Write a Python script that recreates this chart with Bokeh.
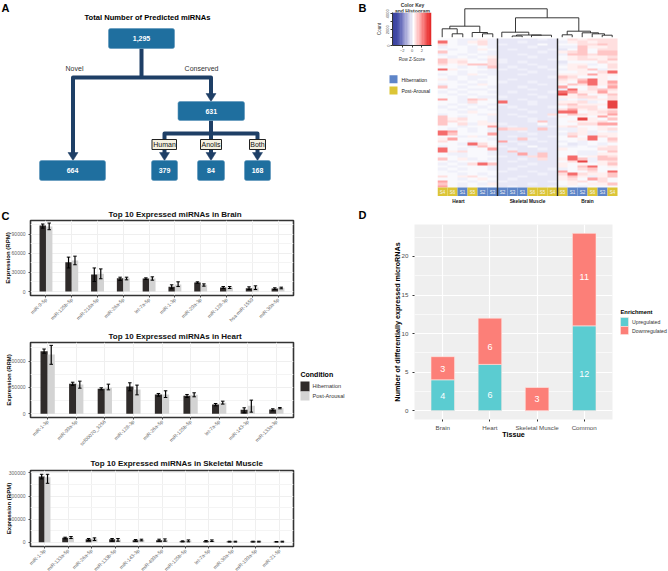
import numpy as np
from bokeh.plotting import figure
from bokeh.layouts import column, row
from bokeh.embed import file_html
from bokeh.resources import INLINE
from bokeh.core.properties import value
from bokeh.models import (ColumnDataSource, FactorRange, Range1d, FixedTicker, NumeralTickFormatter,
                          Label, LinearColorMapper, Title)
from bokeh.transform import dodge

FONT = "Liberation Sans"

# ---------- Panel A ----------
tree_values = ["1,295", "631", "664", "379", "84", "168"]
tree_left = [108, 177.5, 39, 151, 197, 244]
tree_right = [174, 244, 105, 177, 224, 270]
tree_top = [28, 101, 160, 160, 160, 160]
tree_bottom = [48, 120, 180, 180, 180, 180]
branch_labels = ["Novel", "Conserved"]
tag_labels = ["Human", "Anolis", "Both"]

# ---------- Panel B ----------
heat_rows = [
 "332242 111121 354555", "832452 112111 245455", "532352 211131 335565", "233232 111211 226445",
 "323243 121112 136355", "633232 111121 456366", "232322 112111 266566", "323234 111211 345445",
 "644325 211112 345546", "645335 212111 133354", "534665 111211 244235", "332326 121121 345335",
 "843332 212112 244624", "332322 111211 334358", "232432 112111 444744", "323223 111112 653343",
 "423233 121111 546843", "332323 211211 437847", "233243 111121 365846", "632332 112111 733537",
 "323223 111211 283565", "232332 121112 874474", "323233 111211 946346", "332322 211121 445535",
 "732653 112111 232445", "332533 811211 445239", "323232 211211 564449", "232323 121112 355539",
 "323232 112111 574545", "332433 111211 883456", "233324 121115 365447", "632332 112112 434374",
 "645332 111211 339436", "654342 111261 344453", "635244 211131 335577", "332337 121112 453343",
 "323232 655161 224345", "873232 112111 324232", "863337 111211 254244", "332423 121112 363854",
 "473332 116211 334836", "533233 721121 232335", "332853 112111 312323", "233264 211311 223245",
 "832337 121121 433355", "845332 161111 332236", "322332 117161 332244", "332333 211561 383465",
 "634232 112151 486266", "323323 121111 359245", "232586 111211 434346", "323332 112111 436834",
 "232332 121112 235633", "323333 211211 733538", "332323 111121 585446", "534532 112111 464246",
 "332343 121111 453753", "733232 211112 345353", "632324 111211 343446", "732333 121112 232333",
]
heat_palette = ["#DEDEF2", "#E7E7F6", "#F0F0FA", "#F9F9FD", "#FFF0F0", "#FFDFDF", "#FFC6C6", "#FFA4A4", "#F56C6C", "#E84444"]
strip_samples = ["S4", "S6", "S1", "S5", "S2", "S3", "S2", "S3", "S1", "S6", "S5", "S4", "S5", "S1", "S2", "S6", "S3", "S4"]
strip_groups = ["P", "P", "H", "P", "H", "H", "H", "H", "H", "P", "P", "P", "P", "H", "H", "P", "H", "P"]
tissue_names = ["Heart", "Skeletal Muscle", "Brain"]
key_levels = [-3.75, -3.25, -2.75, -2.25, -1.75, -1.25, -0.75, -0.25, 0.25, 0.75, 1.25, 1.75, 2.25, 2.75, 3.25, 3.75]
key_palette = ["#3A429E", "#4048A4", "#5058AE", "#6A70BC", "#8C8FCC", "#AAACDA", "#C8C9E8", "#E4E4F4",
               "#FFFFFF", "#FFE2E2", "#FFC4C4", "#FCA4A4", "#F88080", "#F26060", "#EC4040", "#E42A2A"]
dendro_paths = [
 ([464.3, 464.3, 546.7, 546.7], [25.7, 8.3, 8.3, 17.3]),
 ([515, 515, 578.3, 578.3], [31.7, 17.3, 17.3, 30.7]),
 ([449.3, 449.3, 479.3, 479.3], [28.3, 25.7, 25.7, 32]),
 ([441.7, 441.7, 456.7, 456.7], [36.7, 28.3, 28.3, 33.3]),
 ([451.7, 451.7, 462.3, 462.3], [36.7, 33.3, 33.3, 36.7]),
 ([471.7, 471.7, 487, 487], [36.7, 32, 32, 33.3]),
 ([482, 482, 492.3, 492.3], [36.7, 33.3, 33.3, 36.7]),
 ([501.3, 501.3, 528.3, 528.3], [36.7, 31.7, 31.7, 34.5]),
 ([516, 516, 541, 541], [35.5, 34.5, 34.5, 34.7]),
 ([511.7, 511.7, 521.7, 521.7], [36.7, 35.5, 35.5, 36.7]),
 ([531, 531, 551, 551], [36.7, 34.7, 34.7, 36.7]),
 ([566.7, 566.7, 590, 590], [34.3, 30.7, 30.7, 32.3]),
 ([561.7, 561.7, 571.7, 571.7], [36.7, 34.3, 34.3, 36.7]),
 ([581.7, 581.7, 598, 598], [36.7, 32.3, 32.3, 33.3]),
 ([591.7, 591.7, 604, 604], [36.7, 33.3, 33.3, 34.7]),
 ([601.7, 601.7, 611.7, 611.7], [36.7, 34.7, 34.7, 36.7]),
]

# ---------- Panel C ----------
conditions = ["Hibernation", "Post-Arousal"]
brain_cats = ["miR-9-5p", "miR-125b-5p", "miR-218a-5p", "miR-26a-5p", "let-7a-5p", "miR-1-3p", "miR-29a-3p", "miR-128-3p", "hsa-miR-1559", "miR-30a-5p"]
brain_hib = [103600, 46000, 26700, 21000, 20400, 7300, 14100, 6300, 5200, 4700]
brain_hib_lo = [99500, 37000, 15700, 17300, 19000, 4200, 13000, 4700, 3100, 3100]
brain_hib_hi = [106000, 54000, 37000, 22500, 21400, 10500, 15200, 7800, 7300, 5800]
brain_pa = [102000, 48600, 27700, 21000, 20400, 11000, 10500, 6300, 6300, 5800]
brain_pa_lo = [97000, 42000, 20000, 18300, 17800, 7800, 8400, 4700, 3100, 4200]
brain_pa_hi = [107500, 55500, 35500, 22500, 23000, 15200, 12000, 7800, 8900, 6800]

heart_cats = ["miR-1-3p", "miR-99a-5p", "scf00070_3256", "miR-128-3p", "miR-26a-5p", "miR-125b-5p", "let-7a-5p", "miR-143-3p", "miR-133a-3p"]
heart_hib = [119000, 57000, 47500, 52000, 36700, 34200, 17700, 7600, 8200]
heart_hib_lo = [115000, 54000, 45500, 43700, 33500, 31000, 15200, 1900, 5700]
heart_hib_hi = [123000, 60000, 49400, 58900, 38600, 36700, 19600, 11400, 9500]
heart_pa = [112700, 55700, 49400, 46200, 36700, 36000, 20900, 15200, 10800]
heart_pa_lo = [94000, 48700, 45500, 36000, 31000, 32300, 18400, 3200, 9500]
heart_pa_hi = [130000, 62000, 56300, 54500, 43700, 39900, 24000, 26000, 12000]

muscle_cats = ["miR-1-3p", "miR-133a-5p", "miR-26a-5p", "miR-133b-5p", "miR-143-3p", "miR-499a-5p", "miR-125b-5p", "let-7a-5p", "miR-30a-5p", "miR-199a-5p", "miR-21-5p"]
muscle_hib = [284000, 18800, 13000, 13000, 8700, 8700, 4300, 4300, 2900, 2900, 1900]
muscle_hib_lo = [274000, 14400, 7200, 4300, 4300, 4300, 1500, 1500, 500, 500, 500]
muscle_hib_hi = [294000, 21600, 15900, 15900, 11500, 13000, 5800, 7200, 4300, 4300, 3000]
muscle_pa = [281000, 20200, 15000, 11500, 9000, 10000, 7000, 5800, 2900, 2900, 2900]
muscle_pa_lo = [255000, 15900, 7200, 4300, 5800, 4300, 1500, 2900, 500, 500, 500]
muscle_pa_hi = [294000, 24500, 18800, 15900, 13000, 14400, 10000, 10000, 4300, 4300, 4300]

# ---------- Panel D ----------
tissues = ["Brain", "Heart", "Skeletal Muscle", "Common"]
enrich = ["Upregulated", "Downregulated"]
up_counts = [4, 6, 0, 11]
down_counts = [3, 6, 3, 12]
up_labels = ["4", "6", "12"]
up_label_tissue = ["Brain", "Heart", "Common"]
up_label_y = [1.85, 2.0, 4.7]
down_labels = ["3", "6", "3", "11"]
down_label_y = [5.35, 8.3, 1.5, 17.3]

COL_UP, COL_DOWN = "#5BCCD1", "#FC7F78"
COL_HIB, COL_PA = "#2F2B2A", "#D3D3D3"


def blank(w, h, xr, yr, **kw):
    p = figure(width=w, height=h, x_range=xr, y_range=yr, output_backend="svg", toolbar_location=None,
               min_border=0, outline_line_color=None, background_fill_color=None, border_fill_color=None, frame_align=False, **kw)
    p.axis.visible = False
    p.grid.visible = False
    return p


def note(p, x, y, text, size, bold=False, color="black", align="center", base="middle", angle=0):
    p.add_layout(Label(x=x, y=y, x_units="canvas", y_units="canvas", text=text, text_font=FONT,
                       text_font_size=f"{size}px", text_font_style="bold" if bold else "normal",
                       text_color=color, text_align=align, text_baseline=base, angle=angle))


def overlay(w, h):
    """Transparent sheet laid over the figure that follows it, for text outside that figure's frame."""
    return blank(w, h, Range1d(0, w), Range1d(h, 0), margin=(0, 0, -h, 0))


# ---------- A ----------
pa = blank(330, 205, Range1d(0, 330), Range1d(205, 0))
NAVY = "#1E3F66"
pa.multi_line([[141, 141], [72.5, 72.5, 210.5, 210.5], [210.5, 210.5], [164, 164, 257, 257], [210.5, 210.5]],
              [[48, 77], [155, 77, 77, 96], [120, 133], [155, 133, 133, 155], [133, 155]],
              line_color=NAVY, line_width=4, line_join="round")
pa.patches([[67.5, 77.5, 72.5], [205.5, 215.5, 210.5], [159, 169, 164], [205.5, 215.5, 210.5], [252, 262, 257]],
           [[152, 152, 160], [93, 93, 101], [152, 152, 160], [152, 152, 160], [152, 152, 160]],
           fill_color=NAVY, line_color=NAVY, line_width=0.5)
pa.quad(left=tree_left, right=tree_right, top=tree_top, bottom=tree_bottom, fill_color="#1F6F9F", line_color="#5B93B8",
        line_width=0.6, border_radius=2)
pa.text([(a + b) / 2 for a, b in zip(tree_left, tree_right)], [(a + b) / 2 for a, b in zip(tree_top, tree_bottom)], tree_values,
        text_color="white", text_font=value(FONT), text_font_style="bold", text_font_size="7px",
        text_align="center", text_baseline="middle")
pa.text([74, 201], [68, 68], branch_labels, text_color="#333333", text_font=value(FONT), text_font_size="7px",
        text_align="center", text_baseline="middle")
pa.quad(left=[151.5, 200, 249], right=[176, 221, 265], top=[139, 139, 139], bottom=[149, 149, 149],
        fill_color="#F6F1E1", line_color="#222222", line_width=1)
pa.text([164, 210.5, 257], [144, 144, 144], tag_labels, text_color="#111111", text_font=value(FONT), text_font_size="7px",
        text_align="center", text_baseline="middle")
note(pa, 147, 17, "Total Number of Predicted miRNAs", 7.6, True)
note(pa, 1, 7, "A", 11, True, align="left")

# ---------- B: key ----------
pk = figure(width=107, height=70, x_range=Range1d(-4, 4), y_range=Range1d(0, 4170), output_backend="svg", toolbar_location=None,
            min_border_left=62, min_border_right=6, min_border_top=12, min_border_bottom=25,
            outline_line_color=None, border_fill_color=None, frame_align=False)
pk.grid.visible = False
pk.image(image=[np.array([key_levels])], x=-4, y=0, dw=8, dh=4170,
         color_mapper=LinearColorMapper(palette=key_palette, low=-4, high=4))
pk.xaxis.ticker = FixedTicker(ticks=[-2, 0, 2])
pk.yaxis.ticker = FixedTicker(ticks=[0, 2000, 4000], minor_ticks=[1000, 3000])
pk.xaxis.axis_label = "Row Z-Score"
pk.yaxis.axis_label = "Count"
pk.yaxis.major_label_orientation = "vertical"
for ax in (pk.xaxis[0], pk.yaxis[0]):
    ax.axis_line_color = "#333333"
    ax.major_tick_line_color = "#333333"
    ax.major_tick_in = 0
    ax.major_tick_out = 2
    ax.minor_tick_in = 0
    ax.minor_tick_out = 2
    ax.minor_tick_line_color = "#333333"
    ax.major_label_text_font = FONT
    ax.major_label_text_font_size = "4px"
    ax.major_label_text_color = "#555555"
    ax.major_label_standoff = 1
    ax.axis_label_text_font = FONT
    ax.axis_label_text_font_size = "4.5px"
    ax.axis_label_text_font_style = "normal"
    ax.axis_label_text_color = "#333333"
    ax.axis_label_standoff = 2
hk = overlay(107, 14)
note(hk, 82, 4.5, "Color Key", 5, True, "#333333")
note(hk, 82, 10, "and Histogram", 5, True, "#333333")
note(hk, 28, 7, "B", 11, True, align="left")
pl = blank(107, 135, Range1d(330, 437), Range1d(205, 70))
pl.quad(left=[389, 389], right=[397, 397], top=[74.7, 86], bottom=[82.7, 94], fill_color=["#5E85C8", "#DCC536"], line_color=None)
pl.text([401, 401], [79, 90], conditions, text_color="#222222", text_font=value(FONT), text_font_size="5px",
        text_align="left", text_baseline="middle")
pb_left = column(hk, pk, pl)

# ---------- B: heatmap ----------
ph = blank(231, 205, Range1d(437, 668), Range1d(205, 0))
heat = np.array([[int(c) for c in r.replace(" ", "")] for r in heat_rows], dtype=float)
ph.image(image=[heat], x=437, y=38, dw=180, dh=149,
         color_mapper=LinearColorMapper(palette=heat_palette, low=-0.5, high=9.5))
ph.multi_line([q[0] for q in dendro_paths], [q[1] for q in dendro_paths], line_color="#222222", line_width=0.9)
cols = np.arange(len(strip_samples))
ph.quad(left=437 + cols * 10, right=447 + cols * 10, top=187, bottom=195.6,
        fill_color=["#5E85C8" if g == "H" else "#DCC536" for g in strip_groups], line_color=None)
ph.text(442 + cols * 10, [191.5] * len(cols), strip_samples, text_color="#F4F4F4", text_font=value(FONT), text_font_size="4.5px",
        text_align="center", text_baseline="middle")
ph.segment([497, 557], [38, 38], [497, 557], [195.6, 195.6], line_color="#2A2A2A", line_width=1.4)
ph.text([458, 527, 587], [201, 201, 201], tissue_names, text_color="#111111", text_font=value(FONT), text_font_size="4.8px",
        text_font_style="bold", text_align="center", text_baseline="middle")


# ---------- C ----------
def expr(cats, hib, hlo, hhi, pav, plo, phi, h, top, bottom, yr, ticks, minors, title, t_off, t_stand, lab_stand, extra=10):
    xr = FactorRange(factors=cats, range_padding=0.1, range_padding_units="absolute")
    p = figure(width=355, height=h + extra, x_range=xr, y_range=Range1d(*yr), output_backend="svg", toolbar_location=None,
               min_border_left=30, min_border_right=62, min_border_top=top, min_border_bottom=bottom + extra,
               outline_line_color="#333333", outline_line_width=1.6, border_fill_color=None, frame_align=False,
               margin=(0, 0, -extra, 0))
    src = ColumnDataSource(dict(cat=cats, hib=hib, hlo=hlo, hhi=hhi, pav=pav, plo=plo, phi=phi))
    D = 0.125
    p.vbar(x=dodge("cat", -D, range=xr), top="hib", width=0.25, source=src, fill_color=COL_HIB, line_color=None)
    p.vbar(x=dodge("cat", D, range=xr), top="pav", width=0.25, source=src, fill_color=COL_PA, line_color=None)
    for off, lo, hi in ((-D, "hlo", "hhi"), (D, "plo", "phi")):
        xd = dodge("cat", off, range=xr)
        p.segment(x0=xd, x1=xd, y0=lo, y1=hi, source=src, line_color="black", line_width=1.2)
        p.scatter(x=xd, y=lo, source=src, marker="dash", size=3.5, line_color="black", line_width=1)
        p.scatter(x=xd, y=hi, source=src, marker="dash", size=3.5, line_color="black", line_width=1)
    p.yaxis.ticker = FixedTicker(ticks=ticks, minor_ticks=minors)
    p.yaxis.formatter = NumeralTickFormatter(format="0")
    p.xgrid.grid_line_color = "#EFEFEF"
    p.ygrid.grid_line_color = "#EFEFEF"
    p.ygrid.minor_grid_line_color = "#F4F4F4"
    p.xaxis.major_label_orientation = 0.785
    p.yaxis.axis_label = "Expression (RPM)"
    for ax in (p.xaxis[0], p.yaxis[0]):
        ax.axis_line_color = None
        ax.major_tick_in = 0
        ax.major_tick_out = 2
        ax.major_tick_line_color = "#444444"
        ax.minor_tick_line_color = None
        ax.major_label_text_font = FONT
        ax.major_label_text_font_size = "5px"
        ax.major_label_text_color = "#666666"
        ax.major_label_standoff = 1
    p.yaxis.axis_label_text_font = FONT
    p.yaxis.axis_label_text_font_size = "6px"
    p.yaxis.axis_label_text_font_style = "bold"
    p.yaxis.axis_label_text_color = "black"
    p.yaxis.axis_label_standoff = lab_stand
    p.title = Title(text=title, text_font=FONT, text_font_size="8px", text_font_style="bold", align="left",
                    offset=t_off, standoff=t_stand, text_color="#111111")
    return p


pc1 = expr(brain_cats, brain_hib, brain_hib_lo, brain_hib_hi, brain_pa, brain_pa_lo, brain_pa_hi, 120, 15, 30,
           (-6280, 111500), [0, 30000, 60000, 90000], [15000, 45000, 75000, 105000],
           "Top 10 Expressed miRNAs in Brain", 78, 4, -2)
hc = overlay(28, 24)
note(hc, 1, 10.5, "C", 11, True, align="left")
pc2 = expr(heart_cats, heart_hib, heart_hib_lo, heart_hib_hi, heart_pa, heart_pa_lo, heart_pa_hi, 125, 17, 33,
           (-7000, 135400), [0, 50000, 100000], [25000, 75000, 125000],
           "Top 10 Expressed miRNAs in Heart", 78, 4, -6)
lc = overlay(355, 125)
lc.quad(left=[300, 300], right=[309, 309], top=[56, 66], bottom=[66, 75], fill_color=[COL_HIB, COL_PA], line_color=None)
lc.text([312, 312], [60.5, 70.5], conditions, text_color="#333333", text_font=value(FONT), text_font_size="5.6px",
        text_align="left", text_baseline="middle")
note(lc, 300, 49, "Condition", 7, True, align="left")
pc3 = expr(muscle_cats, muscle_hib, muscle_hib_lo, muscle_hib_hi, muscle_pa, muscle_pa_lo, muscle_pa_hi, 121, 20, 25,
           (-18600, 310400), [0, 100000, 200000, 300000], [50000, 150000, 250000],
           "Top 10 Expressed miRNAs in Skeletal Muscle", 60, 6, -6)

# ---------- D ----------
xd = FactorRange(factors=tissues, range_padding=0.1, range_padding_units="absolute")
pd_ = figure(width=313, height=366, x_range=xd, y_range=Range1d(-1.15, 24.15), output_backend="svg", toolbar_location=None,
             min_border_left=59, min_border_right=56, min_border_top=19, min_border_bottom=152,
             outline_line_color=None, background_fill_color="#EFEFEF", border_fill_color=None, frame_align=False)
ds = ColumnDataSource(dict(t=tissues, up=up_counts, down=down_counts))
pd_.vbar_stack(["up", "down"], x="t", width=0.5, source=ds, color=[COL_UP, COL_DOWN], line_color="#FFE8E4", line_width=0.6)
pd_.text(up_label_tissue, up_label_y, up_labels, text_color="white", text_font=value(FONT), text_font_size="9px",
         text_align="center", text_baseline="middle")
pd_.text(tissues, down_label_y, down_labels, text_color="white", text_font=value(FONT), text_font_size="9px",
         text_align="center", text_baseline="middle")
pd_.yaxis.ticker = FixedTicker(ticks=[0, 5, 10, 15, 20], minor_ticks=[2.5, 7.5, 12.5, 17.5, 22.5])
pd_.xgrid.grid_line_color = "white"
pd_.xgrid.grid_line_width = 1.2
pd_.ygrid.grid_line_color = "white"
pd_.ygrid.grid_line_width = 1.2
pd_.ygrid.minor_grid_line_color = "white"
pd_.ygrid.minor_grid_line_width = 0.6
pd_.xaxis.axis_label = "Tissue"
pd_.yaxis.axis_label = "Number of differentially expressed microRNAs"
for ax in (pd_.xaxis[0], pd_.yaxis[0]):
    ax.axis_line_color = None
    ax.major_tick_in = 0
    ax.major_tick_out = 2
    ax.major_tick_line_color = "#333333"
    ax.minor_tick_line_color = None
    ax.major_label_text_font = FONT
    ax.major_label_text_font_size = "6.2px"
    ax.major_label_text_color = "#4D4D4D"
    ax.major_label_standoff = 2
    ax.axis_label_text_font = FONT
    ax.axis_label_text_font_size = "7.2px"
    ax.axis_label_text_font_style = "bold"
    ax.axis_label_text_color = "black"
pd_.yaxis.axis_label_standoff = -3
pd_.xaxis.axis_label_standoff = -4
hd = overlay(313, 366)
hd.quad(left=[265, 265], right=[273, 273], top=[112, 121], bottom=[121, 129], fill_color=[COL_UP, COL_DOWN], line_color="#FFE8E4", line_width=0.5)
hd.text([276.5, 276.5], [116.5, 125], enrich, text_color="#333333", text_font=value(FONT), text_font_size="5.2px",
        text_align="left", text_baseline="middle")
note(hd, 265, 106.5, "Enrichment", 5.8, True, align="left")
note(hd, 3, 9, "D", 11, True, align="left")

root = column(row(pa, pb_left, ph), row(column(hc, pc1, lc, pc2, pc3), column(hd, pd_)),
              width=668, height=571, styles={"overflow": "hidden"})
open("out.html", "w").write(file_html(root, INLINE))
